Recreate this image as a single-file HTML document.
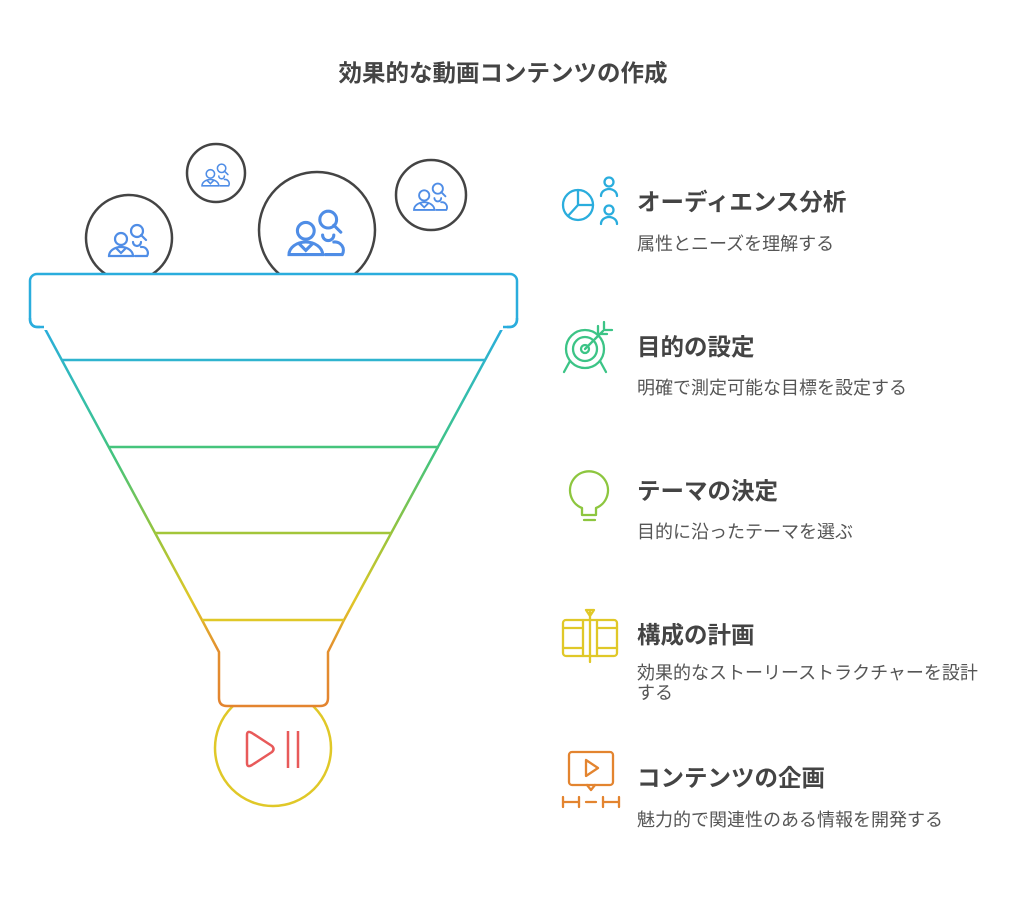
<!DOCTYPE html>
<html><head><meta charset="utf-8"><style>
body{margin:0;background:#fff;}
svg text{font-family:"Liberation Sans","Noto Sans CJK JP",sans-serif;}
</style></head><body>
<svg width="1024" height="895" viewBox="0 0 1024 895" xmlns="http://www.w3.org/2000/svg">
<defs>
<linearGradient id="fg" gradientUnits="userSpaceOnUse" x1="0" y1="327" x2="0" y2="705">
<stop offset="0" stop-color="#2aaddd"/>
<stop offset="0.2" stop-color="#35bfa8"/>
<stop offset="0.35" stop-color="#45c47c"/>
<stop offset="0.55" stop-color="#98c43c"/>
<stop offset="0.72" stop-color="#e0c828"/>
<stop offset="0.85" stop-color="#e3902f"/>
<stop offset="1" stop-color="#e3842f"/>
</linearGradient>
</defs>
<text x="503" y="81" text-anchor="middle" font-size="23.5" font-weight="bold" fill="#444">効果的な動画コンテンツの作成</text>

<g fill="none" stroke="#444" stroke-width="2.5">
<circle cx="129" cy="238" r="43"/>
<circle cx="216" cy="173" r="29"/>
<circle cx="317" cy="230" r="58"/>
<circle cx="431" cy="195" r="35"/>
</g>
<g fill="none" stroke="#4f8de6" stroke-width="2.2" stroke-linecap="round">
<g transform="translate(129,242) scale(1)">
<circle cx="-8" cy="-3" r="6"/><path d="M-20 14 a12 9 0 0 1 24 0 z M-13 6 l5 5 l5 -5"/>
<circle cx="8" cy="-11" r="6"/><path d="M12 -7 l5 5 M4 0 a4 4 0 0 0 8 0 M6 14 h12 a6 6 0 0 0 -6 -9"/>
</g>
<g transform="translate(216,176) scale(0.7)">
<circle cx="-8" cy="-3" r="6"/><path d="M-20 14 a12 9 0 0 1 24 0 z M-13 6 l5 5 l5 -5"/>
<circle cx="8" cy="-11" r="6"/><path d="M12 -7 l5 5 M4 0 a4 4 0 0 0 8 0 M6 14 h12 a6 6 0 0 0 -6 -9"/>
</g>
<g transform="translate(317,235) scale(1.4)">
<circle cx="-8" cy="-3" r="6"/><path d="M-20 14 a12 9 0 0 1 24 0 z M-13 6 l5 5 l5 -5"/>
<circle cx="8" cy="-11" r="6"/><path d="M12 -7 l5 5 M4 0 a4 4 0 0 0 8 0 M6 14 h12 a6 6 0 0 0 -6 -9"/>
</g>
<g transform="translate(431,198) scale(0.85)">
<circle cx="-8" cy="-3" r="6"/><path d="M-20 14 a12 9 0 0 1 24 0 z M-13 6 l5 5 l5 -5"/>
<circle cx="8" cy="-11" r="6"/><path d="M12 -7 l5 5 M4 0 a4 4 0 0 0 8 0 M6 14 h12 a6 6 0 0 0 -6 -9"/>
</g>
</g>

<circle cx="273" cy="748" r="58" fill="#fff" stroke="#e0c828" stroke-width="2.5"/>
<path d="M44 327 L202 620 L219 652 L219 698 Q219 706 227 706 L320 706 Q328 706 328 698 L328 652 L344 620 L503 327" fill="#fff" stroke="url(#fg)" stroke-width="2.5" stroke-linejoin="round"/>
<rect x="30" y="274" width="487" height="53" rx="7" fill="#fff" stroke="#2aaddd" stroke-width="2.5"/>
<rect x="40" y="322" width="467" height="8" fill="#fff"/>
<path d="M30 318 Q30 327 38 327 L44 327 M517 318 Q517 327 509 327 L503 327" fill="none" stroke="#2aaddd" stroke-width="2.5"/>
<line x1="62" y1="360" x2="486" y2="360" stroke="#2fb4cf" stroke-width="2.5"/>
<line x1="108" y1="447" x2="439" y2="447" stroke="#45c47c" stroke-width="2.5"/>
<line x1="155" y1="533" x2="391" y2="533" stroke="#a3c63a" stroke-width="2.5"/>
<line x1="202" y1="620" x2="344" y2="620" stroke="#e0c828" stroke-width="2.5"/>
<g fill="none" stroke="#e85a5a" stroke-width="2.5" stroke-linejoin="round">
<path d="M247 735 L247 763 Q247 768 252 765 L272 752 Q275 749 272 746 L252 733 Q247 730 247 735 z"/>
<path d="M288 731 V768 M298 731 V768"/>
</g>

<g fill="none" stroke-width="2.3" stroke-linecap="round" stroke-linejoin="round">
<g stroke="#2aaddd"><circle cx="578" cy="205" r="15"/><path d="M578 190 V205 H593 M578 205 L568 216"/><circle cx="609" cy="182" r="4.5"/><path d="M601 196 a8 7 0 0 1 16 0"/><circle cx="609" cy="210" r="4.5"/><path d="M601 224 a8 7 0 0 1 16 0"/></g>
<g stroke="#3cc486"><circle cx="585" cy="349" r="19"/><circle cx="585" cy="349" r="12"/><circle cx="585" cy="349" r="4"/><path d="M585 349 L603 331 M598 326 V334 H607 M604 322 V330 H612 M570 361 L564 372 M600 361 L606 372"/></g>
<g stroke="#8dc63f"><path d="M582 508 a19 19 0 1 1 14 0 v7 h-14 z M583 515 h13 M584 520 h11"/></g>
<g stroke="#e0c828"><rect x="563" y="620" width="54" height="36" rx="3"/><path d="M563 628 h20 M563 648 h20 M597 628 h20 M597 648 h20 M583 620 v36 M597 620 v36 M590 612 v50 M586 610 h8 l-4 6 z"/></g>
<g stroke="#e3842f"><rect x="569" y="752" width="44" height="33" rx="3"/><path d="M587 785 l4 5 l4 -5 M586 760 v16 l12 -8 z M563 797 v10 M563 802 h16 M579 797 v10 M586 802 h10 M603 797 v10 M603 802 h16 M619 797 v10"/></g>
</g>

<g fill="#444" font-size="23.5" font-weight="bold">
<text x="637" y="210">オーディエンス分析</text>
<text x="637" y="355">目的の設定</text>
<text x="637" y="499">テーマの決定</text>
<text x="637" y="643">構成の計画</text>
<text x="637" y="786">コンテンツの企画</text>
</g>
<g fill="#555" font-size="18">
<text x="637" y="250">属性とニーズを理解する</text>
<text x="637" y="394">明確で測定可能な目標を設定する</text>
<text x="637" y="538">目的に沿ったテーマを選ぶ</text>
<text x="637" y="679">効果的なストーリーストラクチャーを設計</text>
<text x="637" y="699">する</text>
<text x="637" y="826">魅力的で関連性のある情報を開発する</text>
</g>
</svg>
</body></html>
